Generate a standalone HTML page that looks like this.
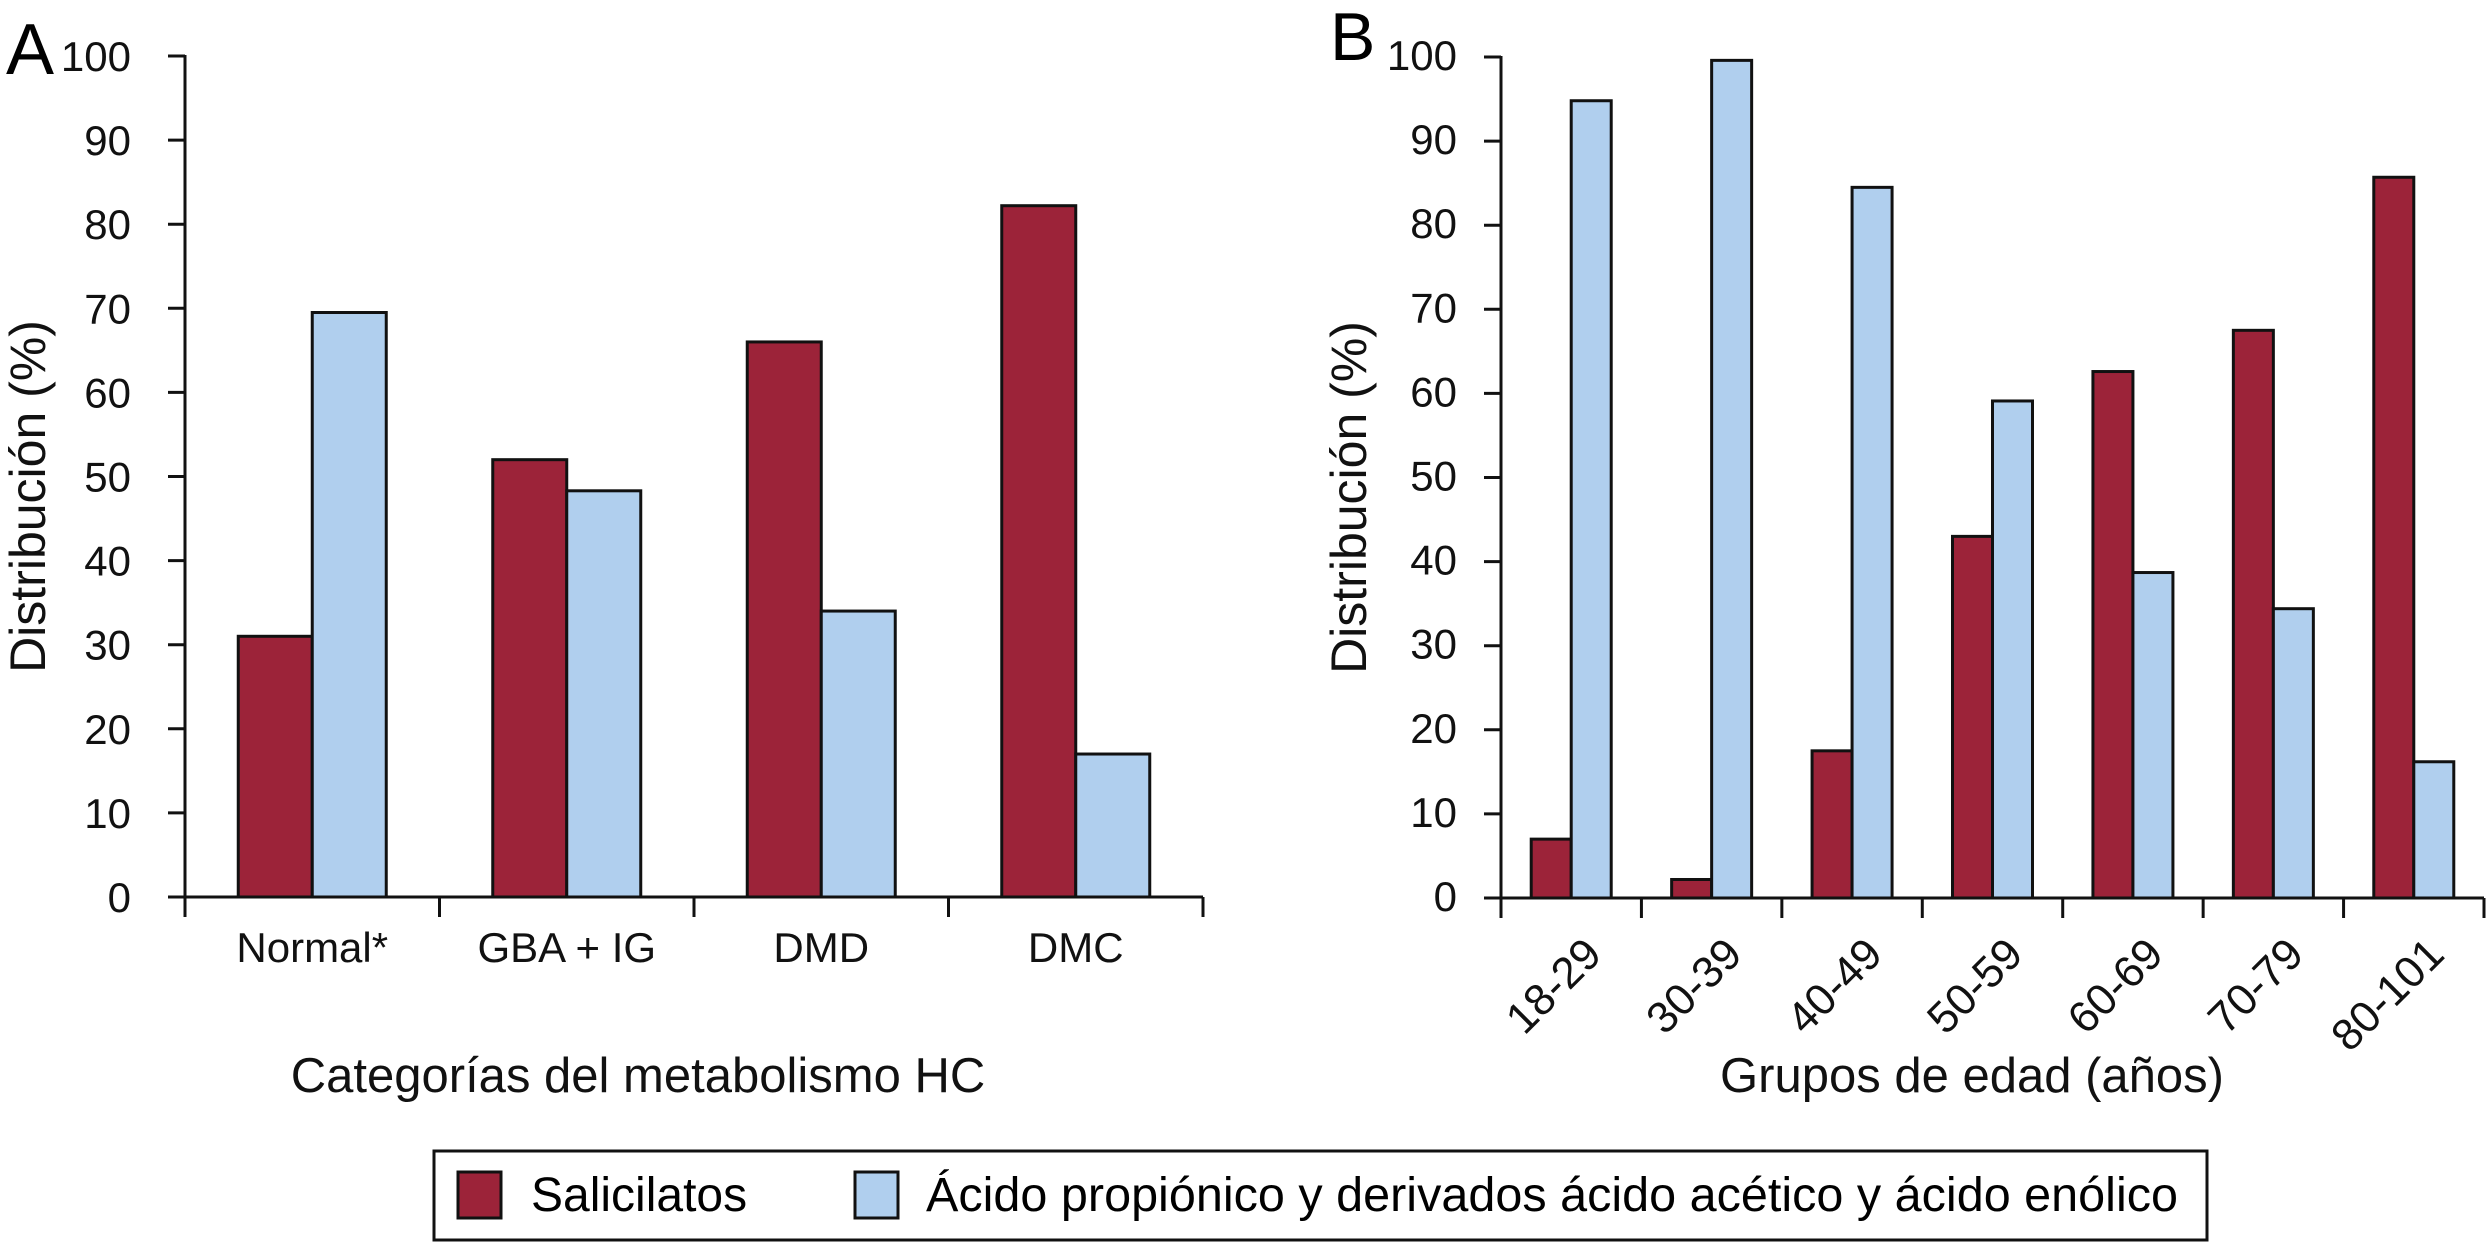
<!DOCTYPE html>
<html><head><meta charset="utf-8">
<style>
html,body{margin:0;padding:0;background:#fff;}
svg{display:block;font-family:"Liberation Sans",Arial,sans-serif;}
</style></head>
<body>
<svg id="fig" width="2486" height="1243" viewBox="0 0 2486 1243" xmlns="http://www.w3.org/2000/svg">
<text x="6" y="74" font-size="72">A</text>
<text x="1330" y="60" font-size="68">B</text>
<g id="ga"></g>
<g id="gb"></g>
<g>
<rect x="434" y="1151" width="1773" height="89" fill="#fff" stroke="#111" stroke-width="3"/>
<rect x="458" y="1172" width="43" height="46" fill="#9c2339" stroke="#111" stroke-width="3"/>
<text x="531" y="1211" font-size="48">Salicilatos</text>
<rect x="855" y="1172" width="43" height="46" fill="#b0cfee" stroke="#111" stroke-width="3"/>
<text x="926" y="1211" font-size="48" textLength="1252" lengthAdjust="spacingAndGlyphs">Ácido propiónico y derivados ácido acético y ácido enólico</text>
</g>
</svg>
<script>
const catsA = ["Normal*","GBA + IG","DMD","DMC"];
const salA = [31, 52, 66, 82.2];
const acA = [69.5, 48.3, 34, 17];
const catsB = ["18-29","30-39","40-49","50-59","60-69","70-79","80-101"];
const salB = [7, 2.2, 17.5, 43, 62.6, 67.5, 85.7];
const acB = [94.8, 99.6, 84.5, 59.1, 38.7, 34.4, 16.2];
const yTicks = [0,10,20,30,40,50,60,70,80,90,100];
const RED = "#9c2339", BLUE = "#b0cfee";
const NS = "http://www.w3.org/2000/svg";
function mk(tag, attrs, parent){const e=document.createElementNS(NS,tag);for(const k in attrs)e.setAttribute(k,attrs[k]);parent.appendChild(e);return e;}

function chart(g, o){
  const y = v => o.y0 - (o.y0 - o.y100) * v / 100;
  const cw = (o.x1 - o.x0) / o.cats.length;
  const xc = i => o.x0 + cw * (i + 0.5);
  o.cats.forEach((c,i)=>{
    const r = mk("rect",{x:xc(i)-o.bw,y:y(o.s1[i]),width:o.bw,height:y(0)-y(o.s1[i]),fill:RED,stroke:"#111","stroke-width":3},g);
    
    
    const b = mk("rect",{x:xc(i),y:y(o.s2[i]),width:o.bw,height:y(0)-y(o.s2[i]),fill:BLUE,stroke:"#111","stroke-width":3},g);
    
    
  });
  const ya = mk("line",{x1:o.x0,y1:o.y100-1,x2:o.x0,y2:o.y0+20,stroke:"#111","stroke-width":3},g);
  
  
  const xa = mk("line",{x1:o.x0-17,y1:o.y0,x2:o.x1,y2:o.y0,stroke:"#111","stroke-width":3},g);
  
  
  yTicks.forEach(v=>{
    const t = mk("line",{x1:o.x0-17,y1:y(v),x2:o.x0,y2:y(v),stroke:"#111","stroke-width":3},g);
    
    
    const l = mk("text",{x:o.lx,y:y(v)+o.dy,"font-size":42,"text-anchor":"end",fill:"#111"},g);
    l.textContent = v;
    
    
  });
  for(let i=0;i<=o.cats.length;i++){
    const t = mk("line",{x1:o.x0+cw*i,y1:o.y0,x2:o.x0+cw*i,y2:o.y0+20,stroke:"#111","stroke-width":3},g);
    
    
  }
  o.cats.forEach((c,i)=>{
    let l;
    if(o.rot){
      const ax = xc(i)+10, ay = 934;
      l = mk("text",{x:ax,y:ay,"font-size":44,"text-anchor":"end",transform:`rotate(-45 ${ax} ${ay}) translate(0 32)`,fill:"#111"},g);
    } else {
      l = mk("text",{x:xc(i),y:962,"font-size":42,"text-anchor":"middle",fill:"#111"},g);
    }
    l.textContent = c;
    
    
  });
  const yt = mk("text",{x:0,y:0,"font-size":50,"text-anchor":"middle",transform:`translate(${o.ytx} ${(o.y0+o.y100)/2+20}) rotate(-90)`,fill:"#111"},g);
  yt.textContent = "Distribución (%)";
  
  
  const xt = mk("text",{x:o.xtx,y:o.xty,"font-size":49,"text-anchor":"middle",fill:"#111"},g);
  xt.textContent = o.xtitle;
  
  
}
chart(document.getElementById("ga"),{cats:catsA,s1:salA,s2:acA,x0:185,x1:1203,y0:897,y100:56,bw:74,lx:131,dy:15,ytx:45,rot:false,xtitle:"Categorías del metabolismo HC",xtx:638,xty:1092});
chart(document.getElementById("gb"),{cats:catsB,s1:salB,s2:acB,x0:1501,x1:2484,y0:898,y100:57,bw:40,lx:1457,dy:13,ytx:1366,rot:true,xtitle:"Grupos de edad (años)",xtx:1972,xty:1092});
</script>
</body></html>
